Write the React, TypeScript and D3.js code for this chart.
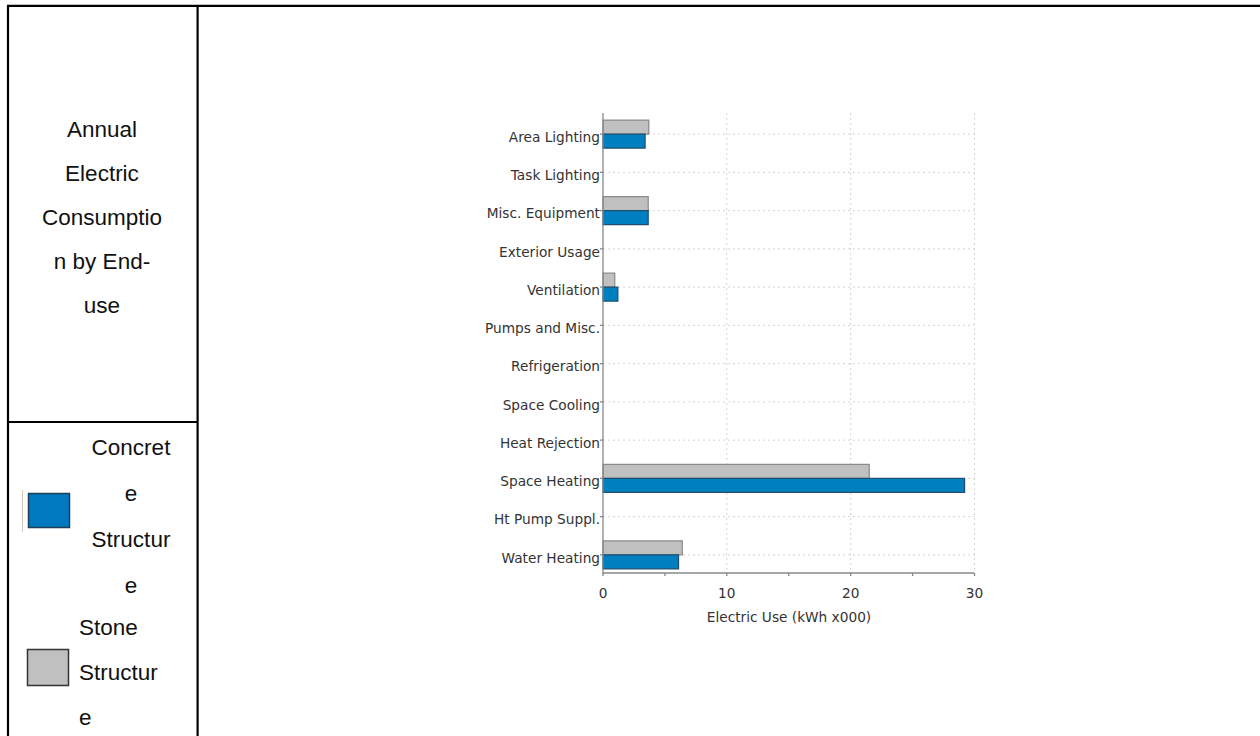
import React from "react";
import * as d3 from "d3";

const categories = [
  "Area Lighting",
  "Task Lighting",
  "Misc. Equipment",
  "Exterior Usage",
  "Ventilation",
  "Pumps and Misc.",
  "Refrigeration",
  "Space Cooling",
  "Heat Rejection",
  "Space Heating",
  "Ht Pump Suppl.",
  "Water Heating",
];
const stoneValues = [3.7, 0, 3.65, 0, 0.95, 0, 0, 0, 0, 21.5, 0, 6.4];
const concreteValues = [3.4, 0, 3.65, 0, 1.2, 0, 0, 0, 0, 29.2, 0, 6.1];
const xTicks = [0, 10, 20, 30];
const xMinorTicks = [0, 5, 10, 15, 20, 25, 30];
const titleLines = ["Annual", "Electric", "Consumptio", "n by End-", "use"];
const concreteLegend = ["Concret", "e", "Structur", "e"];
const stoneLegend = ["Stone", "Structur", "e"];
const axisTitle = "Electric Use (kWh x000)";

export default function App() {
  const x = d3.scaleLinear().domain([0, 30]).range([603, 974.5]);
  const y = d3.scaleBand<string>().domain(categories).range([115, 574]).paddingInner(0);
  const bw = y.bandwidth();
  const barH = 14;
  const plotTop = 113;
  const plotBottom = 573;
  const chartFont = "'DejaVu Sans', Verdana, sans-serif";
  const leftFont = "'Liberation Sans', Arial, Helvetica, sans-serif";

  return (
    <svg
      width={1260}
      height={736}
      style={{ position: "absolute", left: 0, top: 0, background: "#fff" }}
    >
      {/* table frame */}
      <g stroke="#000" strokeWidth={2.2}>
        <line x1={7} x2={1260} y1={5.8} y2={5.8} />
        <line x1={8} x2={8} y1={5} y2={736} />
        <line x1={197.6} x2={197.6} y1={5} y2={736} />
        <line x1={8} x2={197.6} y1={422} y2={422} />
      </g>

      {/* title cell */}
      <g fontFamily={leftFont} fontSize={22.5} fill="#111" textAnchor="middle">
        {titleLines.map((t, i) => (
          <text key={t} x={102} y={129 + i * 44} dy="0.35em">
            {t}
          </text>
        ))}
      </g>

      {/* legend cell */}
      <g fontFamily={leftFont} fontSize={22.5} fill="#111">
        <rect x={28.5} y={493.5} width={41} height={34} fill="#0079C1" stroke="#1f3f58" strokeWidth={1.5} />
        <line x1={22.5} x2={22.5} y1={490} y2={532} stroke="#d8c8b8" strokeWidth={1} />
        {concreteLegend.map((t, i) => (
          <text key={"c" + i} x={131} y={447 + i * 46} dy="0.35em" textAnchor="middle">
            {t}
          </text>
        ))}
        <rect x={27.5} y={649.5} width={41} height={36} fill="#c0c0c0" stroke="#333" strokeWidth={1.5} />
        {stoneLegend.map((t, i) => (
          <text key={"s" + i} x={79} y={627 + i * 45} dy="0.35em" textAnchor="start">
            {t}
          </text>
        ))}
      </g>

      {/* grid */}
      <g stroke="#d4d4d4" strokeWidth={1} strokeDasharray="2,3">
        {xTicks.filter((t) => t > 0).map((t) => (
          <line key={"gx" + t} x1={x(t)} x2={x(t)} y1={plotTop} y2={plotBottom} />
        ))}
        {categories.map((c) => {
          const cy = (y(c) as number) + bw / 2;
          return <line key={"gy" + c} x1={x(0)} x2={x(30)} y1={cy} y2={cy} />;
        })}
      </g>

      {/* bars */}
      {categories.map((c, i) => {
        const cy = (y(c) as number) + bw / 2;
        return (
          <g key={"b" + c}>
            {stoneValues[i] > 0 && (
              <rect
                x={x(0)}
                y={cy - barH}
                width={x(stoneValues[i]) - x(0)}
                height={barH}
                fill="#c0c0c0"
                stroke="#888"
                strokeWidth={1.2}
              />
            )}
            {concreteValues[i] > 0 && (
              <rect
                x={x(0)}
                y={cy}
                width={x(concreteValues[i]) - x(0)}
                height={barH}
                fill="#0080C0"
                stroke="#1e4d6e"
                strokeWidth={1.2}
              />
            )}
          </g>
        );
      })}

      {/* axes */}
      <g stroke="#888" strokeWidth={1.3}>
        <line x1={x(0)} x2={x(0)} y1={plotTop} y2={plotBottom + 1} />
        <line x1={x(0)} x2={x(30)} y1={plotBottom} y2={plotBottom} />
        {xMinorTicks.map((t) => (
          <line key={"xt" + t} x1={x(t)} x2={x(t)} y1={plotBottom} y2={plotBottom + 3} />
        ))}
        {categories.map((c) => {
          const cy = (y(c) as number) + bw / 2;
          return <line key={"yt" + c} x1={x(0) - 3} x2={x(0)} y1={cy} y2={cy} />;
        })}
      </g>

      {/* labels */}
      <g fontFamily={chartFont} fontSize={13.7} fill="#333">
        {categories.map((c) => {
          const cy = (y(c) as number) + bw / 2;
          return (
            <text key={"yl" + c} x={x(0) - 3} y={cy + 3} dy="0.35em" textAnchor="end">
              {c}
            </text>
          );
        })}
        {xTicks.map((t) => (
          <text key={"xl" + t} x={x(t)} y={593} dy="0.35em" textAnchor="middle">
            {t}
          </text>
        ))}
        <text x={789} y={617} dy="0.35em" textAnchor="middle">
          {axisTitle}
        </text>
      </g>
    </svg>
  );
}
